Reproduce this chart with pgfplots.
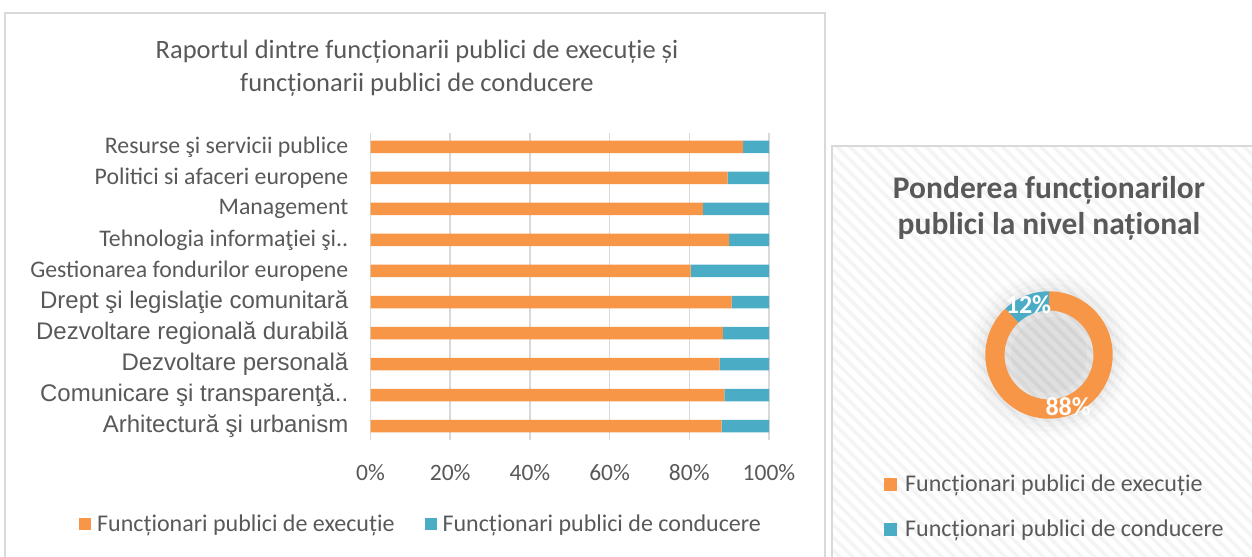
\documentclass[border=0pt]{standalone}
\usepackage{fontspec}
\setmainfont{Carlito}
\newfontfamily\arialf{Liberation Sans}
\usepackage{pgfplots}
\pgfplotsset{compat=1.18}
\usepackage{pgfplotstable}
\usetikzlibrary{patterns.meta}
\definecolor{ExecOrange}{HTML}{F79646}
\definecolor{CondBlue}{HTML}{4BACC6}
\definecolor{TxtGray}{HTML}{595959}
\definecolor{GridGray}{HTML}{D9D9D9}
\newcommand{\fs}[1]{\fontsize{#1bp}{#1bp}\selectfont}

% y = 0 (bottom) ... 9 (top)
\pgfplotstableread{
y exec cond
0 88.1 11.9
1 88.8 11.2
2 87.6 12.4
3 88.4 11.6
4 90.6 9.4
5 80.3 19.7
6 90.0 10.0
7 83.4 16.6
8 89.6 10.4
9 93.5 6.5
}\domenii
\def\natexec{88}
\def\natcond{12}
\pgfmathsetmacro{\angcond}{3.6*\natcond}
\pgfmathsetmacro{\angexec}{3.6*\natexec}

\begin{document}
\begin{tikzpicture}[x=1bp, y=1bp]
% coordinates: x from left, y = 557 - (pixel row)
\useasboundingbox (0,0) rectangle (1252,557);
\fill[white] (0,0) rectangle (1252,557);
% panels
\draw[GridGray, line width=1.2bp] (5,544) rectangle (825,-10);
\fill[white] (832,411) rectangle (1260,-10);
\fill[pattern={Lines[angle=-45, distance=9bp, line width=3.5bp]}, pattern color=gray!9] (832,411) rectangle (1260,-10);
\draw[GridGray, line width=1.2bp] (832,411) rectangle (1260,-10);

% titles
\node[TxtGray, font=\fs{26.5}] at (417,505) {Raportul dintre funcționarii publici de execuție și};
\node[TxtGray, font=\fs{26.5}] at (417,472) {funcționarii publici de conducere};
\node[TxtGray, font=\bfseries\fs{31.5}] at (1049,367) {Ponderea funcționarilor};
\node[TxtGray, font=\bfseries\fs{31.5}] at (1049,331) {publici la nivel național};

\begin{axis}[
  at={(370.5bp,117bp)}, anchor=south west,
  scale only axis, width=398.5bp, height=307bp,
  xbar stacked, bar width=12.5bp,
  xmin=0, xmax=100, ymin=-0.45, ymax=9.45,
  axis line style={draw=none},
  major tick length=0pt,
  xtick={0,20,...,100},
  xticklabel={\pgfmathprintnumber{\tick}\%},
  xticklabel style={TxtGray, font=\fs{23.5}, inner sep=0pt, anchor=north, yshift=-24bp},
  /pgf/number format/assume math mode=true,
  xmajorgrids, grid style={GridGray, line width=1.5bp},
  ytick={0,...,9},
  yticklabels={
    {\arialf\fs{24}Arhitectură şi urbanism},
    {\arialf\fs{24}Comunicare şi transparenţă..},
    {\arialf\fs{24}Dezvoltare personală},
    {\arialf\fs{24}Dezvoltare regională durabilă},
    {\arialf\fs{24}Drept şi legislaţie comunitară},
    {\fs{23.8}Gestionarea fondurilor europene},
    {\fs{23.8}Tehnologia informaţiei şi..},
    {\fs{23.8}Management},
    {\fs{23.8}Politici si afaceri europene},
    {\fs{23.8}Resurse şi servicii publice}},
  yticklabel style={TxtGray, inner sep=0pt, anchor=east, xshift=-22bp},
  legend columns=2,
  legend style={at={(0.127,-0.274)}, anchor=center, draw=none, fill=none,
    font=\fs{24}, text=TxtGray, inner sep=0pt,
    /tikz/every even column/.append style={column sep=28bp}},
  legend image code/.code={\fill[#1] (0bp,-6bp) rectangle (12bp,6bp);},
]
\addplot[fill=ExecOrange, draw=none] table[x=exec, y=y] {\domenii};
\addplot[fill=CondBlue, draw=none] table[x=cond, y=y] {\domenii};
\legend{\hspace{4bp}Funcționari publici de execuție, \hspace{4bp}Funcționari publici de conducere}
\end{axis}

% donut
\begin{axis}[
  at={(1049bp,202bp)}, anchor=center,
  scale only axis, width=128bp, height=128bp,
  xmin=-1, xmax=1, ymin=-1, ymax=1,
  axis lines=none, clip=false,
]
\fill[black, opacity=0.012] (axis cs:0,0) circle[radius=82bp];
\fill[black, opacity=0.015] (axis cs:0,0) circle[radius=77bp];
\fill[black, opacity=0.02] (axis cs:0,0) circle[radius=72bp];
\fill[black, opacity=0.025] (axis cs:0,0) circle[radius=67bp];
\fill[ExecOrange] (axis cs:0,0) ++(90:63.7bp) arc[start angle=90, delta angle=-\angexec, radius=63.7bp]
  -- ++(90+\angcond:-19.2bp) arc[start angle=90+\angcond, delta angle=\angexec, radius=44.5bp] -- cycle;
\fill[CondBlue] (axis cs:0,0) ++(90:63.7bp) arc[start angle=90, delta angle=\angcond, radius=63.7bp]
  -- ++(90+\angcond:-19.2bp) arc[start angle=90+\angcond, delta angle=-\angcond, radius=44.5bp] -- cycle;
\fill[black, opacity=0.03] (axis cs:0,0) circle[radius=44.5bp];
\fill[black, opacity=0.025] (axis cs:0,0) circle[radius=38bp];
\node[white, font=\bfseries\fs{26}] at (axis cs:-0.32,0.78) {\natcond\%};
\node[white, font=\bfseries\fs{26}] at (axis cs:0.3,-0.8) {\natexec\%};
\end{axis}

% right legend
\fill[ExecOrange] (884,79) rectangle (897,66);
\node[TxtGray, anchor=west, font=\fs{24}, inner sep=0pt] at (905,72) {Funcționari publici de execuție};
\fill[CondBlue] (884,34) rectangle (897,21);
\node[TxtGray, anchor=west, font=\fs{24}, inner sep=0pt] at (905,27) {Funcționari publici de conducere};
\end{tikzpicture}
\end{document}
